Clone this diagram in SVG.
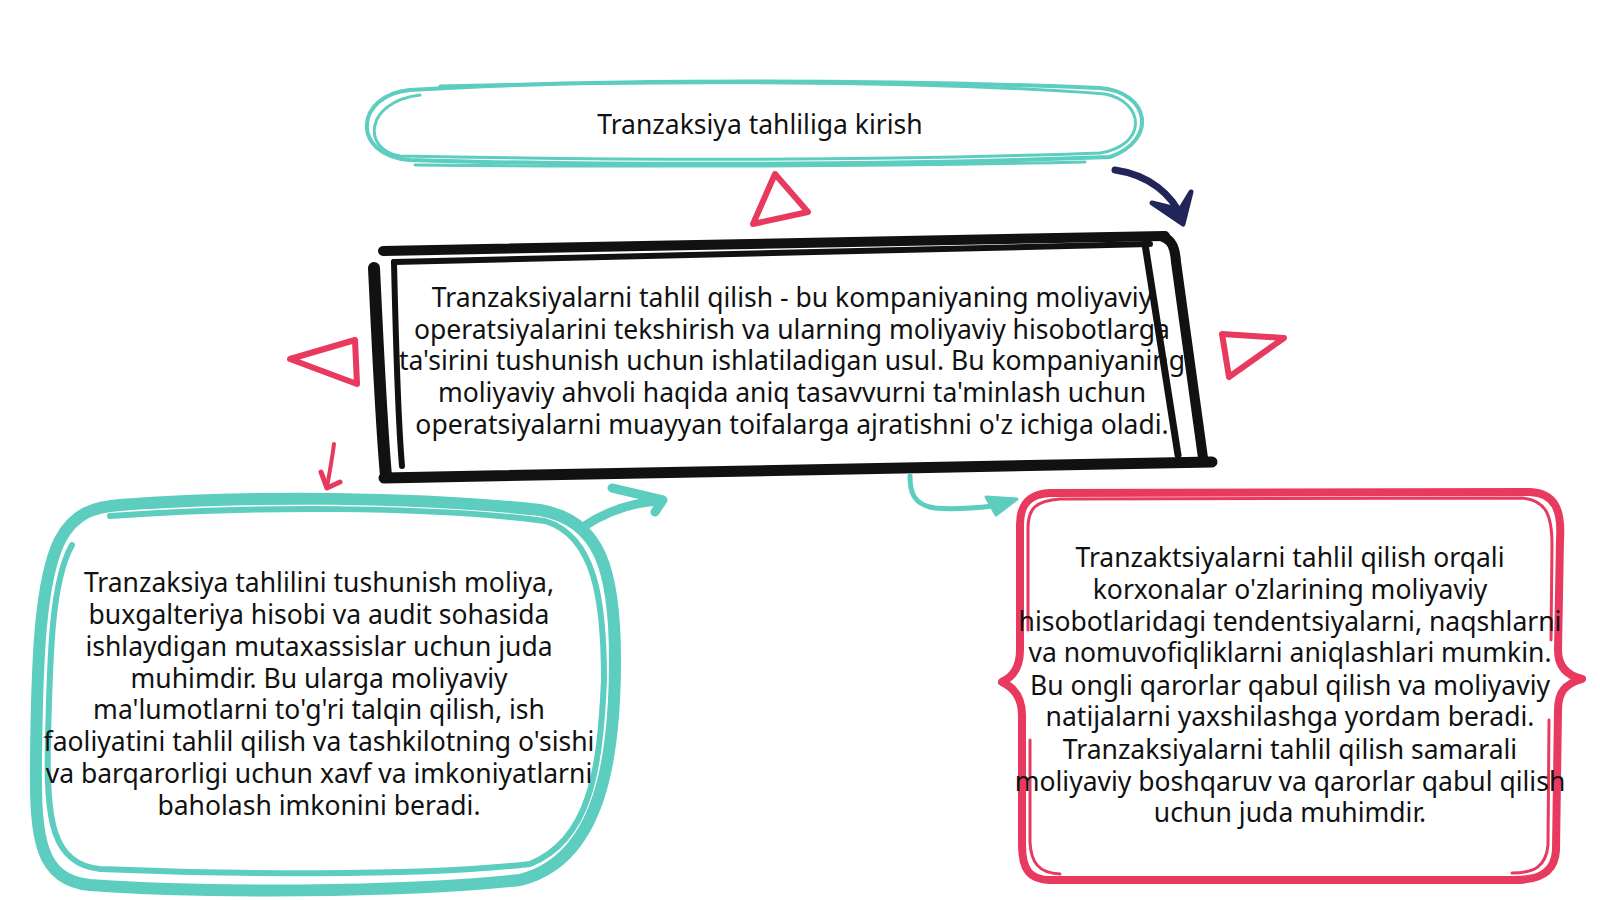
<svg xmlns="http://www.w3.org/2000/svg" width="1600" height="900" viewBox="0 0 1600 900">
<style>
.t{font-family:"Noto Sans","Open Sans","DejaVu Sans",sans-serif;font-size:26.5px;fill:#111;text-anchor:middle}
.teal{fill:none;stroke:#5ccdbf;stroke-linecap:round;stroke-linejoin:round}
.pink{fill:none;stroke:#e8395f;stroke-linecap:round;stroke-linejoin:round}
.blk{fill:none;stroke:#111;stroke-linecap:round;stroke-linejoin:round}
</style>
<rect width="1600" height="900" fill="#fff"/>
<g id="title">
<path class="teal" stroke-width="4" d="M 410 90 C 600 78, 900 80, 1100 88 C 1150 92, 1158 140, 1110 157 C 900 165, 600 166, 410 160 C 350 155, 355 95, 410 90 Z"/>
<path class="teal" stroke-width="3" d="M 440 86 C 700 80, 950 82, 1105 94 C 1145 102, 1148 145, 1100 153 C 850 162, 600 160, 400 156 C 362 150, 364 102, 420 95"/>
<path class="teal" stroke-width="3" d="M 415 165 C 650 167, 900 166, 1085 162"/>
<text class="t" x="760" y="134">Tranzaksiya tahliliga kirish</text>
</g>
<g id="main">
<text class="t" x="792" y="307">Tranzaksiyalarni tahlil qilish - bu kompaniyaning moliyaviy</text>
<text class="t" x="792" y="339">operatsiyalarini tekshirish va ularning moliyaviy hisobotlarga</text>
<text class="t" x="792" y="370">ta'sirini tushunish uchun ishlatiladigan usul. Bu kompaniyaning</text>
<text class="t" x="792" y="402">moliyaviy ahvoli haqida aniq tasavvurni ta'minlash uchun</text>
<text class="t" x="792" y="434">operatsiyalarni muayyan toifalarga ajratishni o'z ichiga oladi.</text>
<path class="blk" stroke-width="10" d="M 383 251 L 1165 236"/>
<path class="blk" stroke-width="6" d="M 394 262 L 1150 244"/>
<path class="blk" stroke-width="12" d="M 374 268 C 378 350, 381 420, 386 476"/>
<path class="blk" stroke-width="6" d="M 394 262 C 396 350, 398 420, 402 466"/>
<path class="blk" stroke-width="11" d="M 384 478 L 1212 462"/>
<path class="blk" stroke-width="10" d="M 1163 237 C 1172 240, 1175 248, 1176 262 L 1203 458"/>
<path class="blk" stroke-width="7" d="M 1145 244 L 1178 455"/>
</g>
<g id="left">
<path class="teal" stroke-width="12" d="M 120 505 C 250 495, 420 497, 540 510 C 600 520, 615 570, 615 660 C 615 760, 600 860, 520 880 C 400 893, 200 893, 90 885 C 40 880, 35 840, 36 760 C 37 660, 40 580, 60 540 C 75 512, 95 507, 120 505 Z"/>
<path class="teal" stroke-width="6" d="M 110 516 C 250 506, 430 506, 545 521 C 595 536, 604 600, 604 680 C 600 770, 590 840, 530 864 C 420 877, 220 874, 100 869 C 52 864, 46 820, 48 740 C 50 650, 52 580, 72 545"/>
<text class="t" x="319" y="592">Tranzaksiya tahlilini tushunish moliya,</text>
<text class="t" x="319" y="624">buxgalteriya hisobi va audit sohasida</text>
<text class="t" x="319" y="656">ishlaydigan mutaxassislar uchun juda</text>
<text class="t" x="319" y="688">muhimdir. Bu ularga moliyaviy</text>
<text class="t" x="319" y="719">ma'lumotlarni to'g'ri talqin qilish, ish</text>
<text class="t" x="319" y="751">faoliyatini tahlil qilish va tashkilotning o'sishi</text>
<text class="t" x="319" y="783">va barqarorligi uchun xavf va imkoniyatlarni</text>
<text class="t" x="319" y="815">baholash imkonini beradi.</text>
</g>
<g id="right">
<path class="pink" stroke-width="8" d="M 1050 493 L 1530 492 C 1555 493, 1562 510, 1560 540 L 1558 650 C 1558 665, 1565 675, 1582 679 C 1565 684, 1558 692, 1558 710 L 1556 850 C 1555 872, 1540 880, 1515 880 L 1050 880 C 1030 880, 1022 870, 1022 845 L 1022 715 C 1022 698, 1015 688, 1002 682 C 1015 676, 1020 665, 1020 650 L 1020 525 C 1020 503, 1030 494, 1050 493 Z"/>
<path class="pink" stroke-width="3" d="M 1060 499 L 1522 498 C 1546 500, 1552 515, 1552 545 L 1551 640 M 1549 720 L 1548 845 C 1546 866, 1535 873, 1512 873 M 1060 874 C 1038 873, 1031 862, 1030 842 L 1030 740 M 1028 630 L 1028 528 C 1028 508, 1036 501, 1060 499"/>
<text class="t" x="1290" y="567">Tranzaktsiyalarni tahlil qilish orqali</text>
<text class="t" x="1290" y="599">korxonalar o'zlarining moliyaviy</text>
<text class="t" x="1290" y="631">hisobotlaridagi tendentsiyalarni, naqshlarni</text>
<text class="t" x="1290" y="662">va nomuvofiqliklarni aniqlashlari mumkin.</text>
<text class="t" x="1290" y="695">Bu ongli qarorlar qabul qilish va moliyaviy</text>
<text class="t" x="1290" y="726">natijalarni yaxshilashga yordam beradi.</text>
<text class="t" x="1290" y="759">Tranzaksiyalarni tahlil qilish samarali</text>
<text class="t" x="1290" y="791">moliyaviy boshqaruv va qarorlar qabul qilish</text>
<text class="t" x="1290" y="822">uchun juda muhimdir.</text>
</g>
<g id="decor">
<path class="pink" stroke-width="6" d="M 775 174 L 808 212 L 753 224 Z"/>
<path class="pink" stroke-width="6" d="M 290 359 L 355 340 L 357 384 Z"/>
<path class="pink" stroke-width="6" d="M 1222 334 L 1284 338 L 1229 377 Z"/>
</g>
<g id="connectors">
<path d="M 1115 170 C 1150 175, 1172 195, 1182 218" fill="none" stroke="#22255a" stroke-width="7" stroke-linecap="round"/>
<path d="M 1152 203 L 1183 224 L 1191 192 L 1180 210 Z" fill="#22255a" stroke="#22255a" stroke-width="5" stroke-linejoin="round"/>
<path class="teal" stroke-width="9" d="M 583 527 C 605 512, 630 502, 662 501"/>
<path class="teal" stroke-width="9" d="M 612 488 L 663 500 L 655 512"/>
<path class="teal" stroke-width="5" d="M 910 476 C 910 490, 912 505, 935 508 C 955 510, 975 508, 993 506"/>
<path d="M 986 497 L 1017 499 L 996 515 Z" fill="#5ccdbf" stroke="#5ccdbf" stroke-width="3" stroke-linejoin="round"/>
<path class="pink" stroke-width="4" d="M 334 444 C 332 460, 329 475, 327 487"/>
<path class="pink" stroke-width="5" d="M 321 472 L 327 488 L 340 482"/>
</g>
</svg>
